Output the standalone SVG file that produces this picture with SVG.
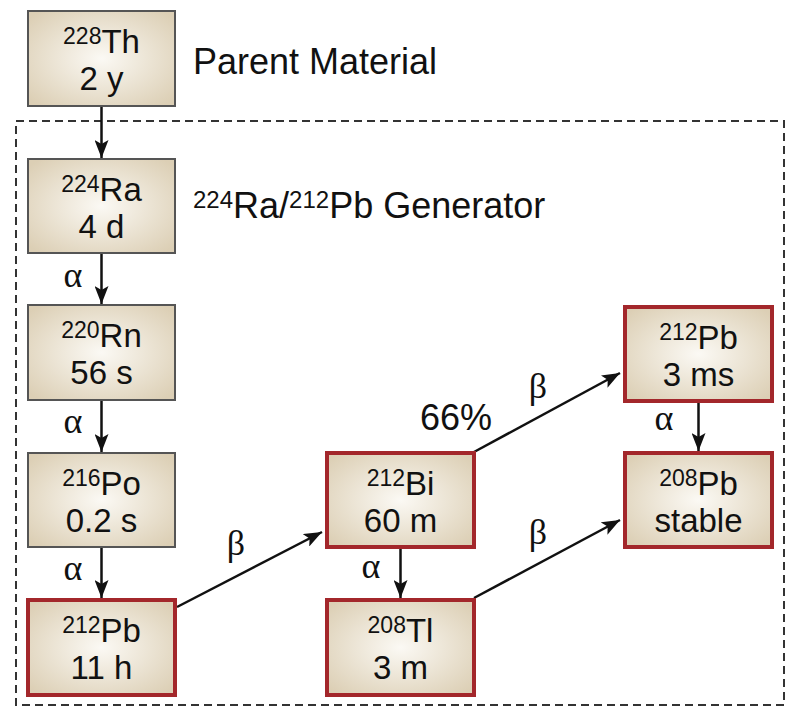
<svg xmlns="http://www.w3.org/2000/svg" width="800" height="719" viewBox="0 0 800 719">
<style>
.bg{fill:#ffffff}
.box{fill:url(#g)}
.gray{stroke:#555555;stroke-width:2}
.red{stroke:#a3272b;stroke-width:4}
.t{font-family:"Liberation Sans",Arial,sans-serif;font-size:33px;fill:#111111;text-anchor:middle}
.sup{font-size:23px}
.lbl{font-family:"Liberation Sans",Arial,sans-serif;font-size:36px;fill:#111111}
.gk{font-family:"Liberation Serif","Times New Roman",serif;font-size:36px;fill:#111111;text-anchor:middle}
.edge{stroke:#111111;stroke-width:2.5;fill:none;marker-end:url(#ah)}
.dash{fill:none;stroke:#333333;stroke-width:2;stroke-dasharray:8 5}
</style>
<defs>
<radialGradient id="g" cx="50%" cy="50%" r="65%">
<stop offset="0" stop-color="#fbf9f4"/>
<stop offset="1" stop-color="#dccfb5"/>
</radialGradient>
<marker id="ah" viewBox="0 0 18 14" refX="18" refY="7" markerWidth="18" markerHeight="14" markerUnits="userSpaceOnUse" orient="auto">
<path d="M0,0 L18,7 L0,14 L4,7 Z" fill="#111111"/>
</marker>
</defs>
<rect class="bg" x="0" y="0" width="800" height="719"/>
<rect class="dash" x="16" y="121" width="768" height="584"/>

<g id="labels">
<text class="lbl" x="193" y="74">Parent Material</text>
<text class="lbl" x="193" y="218"><tspan font-size="24" dy="-10">224</tspan><tspan dy="10">Ra/</tspan><tspan font-size="24" dy="-10">212</tspan><tspan dy="10">Pb Generator</tspan></text>
</g>

<g id="connectors">
<line class="edge" x1="101.5" y1="107" x2="101.5" y2="158"/>
<line class="edge" x1="101.5" y1="254" x2="101.5" y2="304"/>
<line class="edge" x1="101.5" y1="401" x2="101.5" y2="452"/>
<line class="edge" x1="101.5" y1="548" x2="101.5" y2="598"/>
<line class="edge" x1="177" y1="607" x2="322" y2="532"/>
<line class="edge" x1="400.5" y1="549" x2="400.5" y2="598"/>
<line class="edge" x1="474" y1="452" x2="620" y2="373"/>
<line class="edge" x1="474" y1="598" x2="620" y2="520"/>
<line class="edge" x1="698.5" y1="403" x2="698.5" y2="451"/>
<text class="gk" x="73" y="287">α</text>
<text class="gk" x="73" y="433">α</text>
<text class="gk" x="73" y="580">α</text>
<text class="gk" x="236" y="555">β</text>
<text class="gk" x="371" y="578">α</text>
<text class="lbl" x="420" y="430">66%</text>
<text class="gk" x="538" y="398">β</text>
<text class="gk" x="538" y="544">β</text>
<text class="gk" x="664" y="430">α</text>
</g>

<g id="th228">
<rect class="box gray" x="28" y="11" width="147" height="95"/>
<text class="t" x="101.5" y="53"><tspan class="sup" dy="-9">228</tspan><tspan dy="9">Th</tspan></text>
<text class="t" x="101.5" y="90">2 y</text>
</g>
<g id="ra224">
<rect class="box gray" x="28" y="159" width="147" height="94"/>
<text class="t" x="101.5" y="201"><tspan class="sup" dy="-9">224</tspan><tspan dy="9">Ra</tspan></text>
<text class="t" x="101.5" y="238">4 d</text>
</g>
<g id="rn220">
<rect class="box gray" x="28" y="305" width="147" height="95"/>
<text class="t" x="101.5" y="347"><tspan class="sup" dy="-9">220</tspan><tspan dy="9">Rn</tspan></text>
<text class="t" x="101.5" y="384">56 s</text>
</g>
<g id="po216">
<rect class="box gray" x="28" y="453" width="147" height="94"/>
<text class="t" x="101.5" y="495"><tspan class="sup" dy="-9">216</tspan><tspan dy="9">Po</tspan></text>
<text class="t" x="101.5" y="532">0.2 s</text>
</g>
<g id="pb212a">
<rect class="box red" x="28" y="600" width="147" height="95"/>
<text class="t" x="101.5" y="642"><tspan class="sup" dy="-9">212</tspan><tspan dy="9">Pb</tspan></text>
<text class="t" x="101.5" y="679">11 h</text>
</g>
<g id="bi212">
<rect class="box red" x="327" y="453" width="147" height="94"/>
<text class="t" x="400.5" y="495"><tspan class="sup" dy="-9">212</tspan><tspan dy="9">Bi</tspan></text>
<text class="t" x="400.5" y="532">60 m</text>
</g>
<g id="tl208">
<rect class="box red" x="327" y="600" width="147" height="95"/>
<text class="t" x="400.5" y="642"><tspan class="sup" dy="-9">208</tspan><tspan dy="9">Tl</tspan></text>
<text class="t" x="400.5" y="679">3 m</text>
</g>
<g id="pb212b">
<rect class="box red" x="625" y="307" width="147" height="94"/>
<text class="t" x="698.5" y="349"><tspan class="sup" dy="-9">212</tspan><tspan dy="9">Pb</tspan></text>
<text class="t" x="698.5" y="386">3 ms</text>
</g>
<g id="pb208">
<rect class="box red" x="625" y="453" width="147" height="94"/>
<text class="t" x="698.5" y="495"><tspan class="sup" dy="-9">208</tspan><tspan dy="9">Pb</tspan></text>
<text class="t" x="698.5" y="532">stable</text>
</g>
</svg>
